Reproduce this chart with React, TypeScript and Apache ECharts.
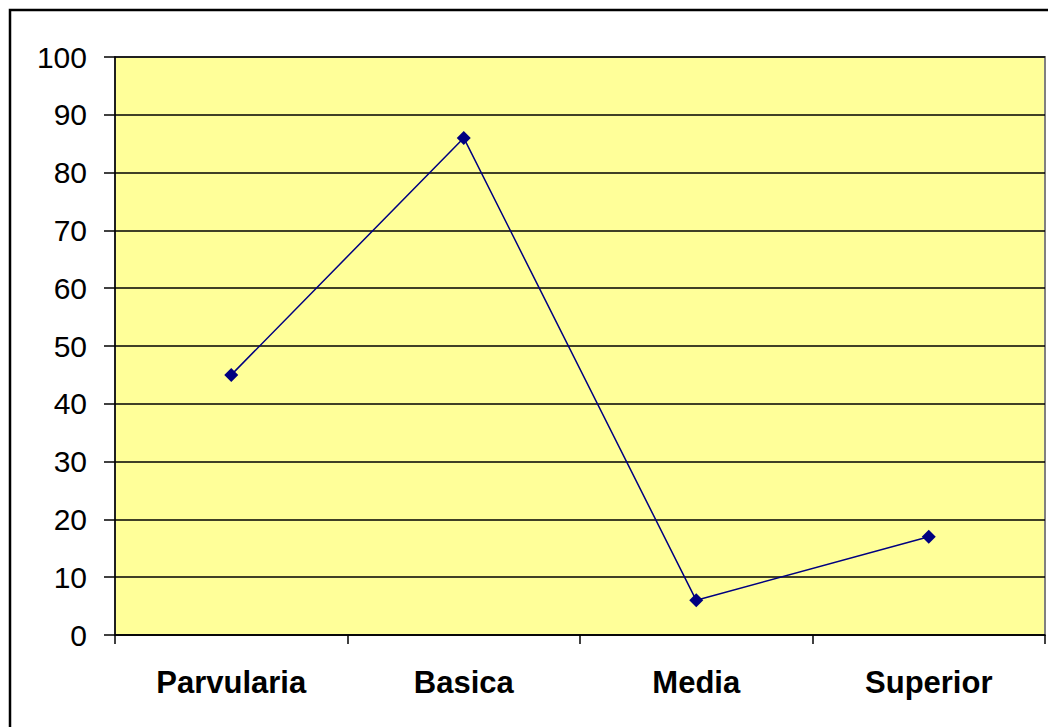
import React, { useEffect, useRef } from "react";
import * as echarts from "echarts";

const categories = ["Parvularia", "Basica", "Media", "Superior"];
const values = [45, 86, 6, 17];
const yTicks = [0, 10, 20, 30, 40, 50, 60, 70, 80, 90, 100];

export default function App() {
  const ref = useRef<HTMLDivElement>(null);
  useEffect(() => {
    document.body.style.margin = "0";
    const chart = echarts.init(ref.current!, null, { renderer: "svg" });
    chart.setOption({
      animation: false,
      backgroundColor: "#ffffff",
      graphic: [
        {
          type: "rect",
          shape: { x: 10, y: 10, width: 1100, height: 800 },
          style: { fill: "none", stroke: "#000", lineWidth: 2.5 },
          silent: true,
          z: 100,
        },
      ],
      grid: {
        left: 115,
        top: 57,
        width: 930,
        height: 578,
        show: true,
        backgroundColor: "#FFFF99",
        borderColor: "#808080",
        borderWidth: 2,
      },
      xAxis: {
        type: "category",
        data: categories,
        boundaryGap: true,
        axisLine: { show: true, lineStyle: { color: "#000", width: 1.5 } },
        axisTick: { show: true, length: 9, lineStyle: { color: "#000", width: 1.5 } },
        axisLabel: {
          color: "#000",
          fontFamily: "Liberation Sans, Arial, sans-serif",
          fontSize: 31,
          fontWeight: "bold",
          margin: 32,
        },
      },
      yAxis: {
        type: "value",
        min: yTicks[0],
        max: yTicks[yTicks.length - 1],
        interval: 10,
        axisLine: { show: true, lineStyle: { color: "#000", width: 1.5 } },
        axisTick: { show: true, length: 11, lineStyle: { color: "#000", width: 1.5 } },
        splitLine: { show: true, lineStyle: { color: "#000", width: 1.5 } },
        axisLabel: {
          color: "#000",
          fontFamily: "Liberation Sans, Arial, sans-serif",
          fontSize: 30,
          margin: 28,
        },
      },
      series: [
        {
          type: "line",
          data: values,
          symbol: "diamond",
          symbolSize: 14,
          itemStyle: { color: "#000080" },
          lineStyle: { color: "#000080", width: 1.5 },
        },
      ],
    });
    return () => chart.dispose();
  }, []);
  return <div ref={ref} style={{ width: 1048, height: 727 }} />;
}
